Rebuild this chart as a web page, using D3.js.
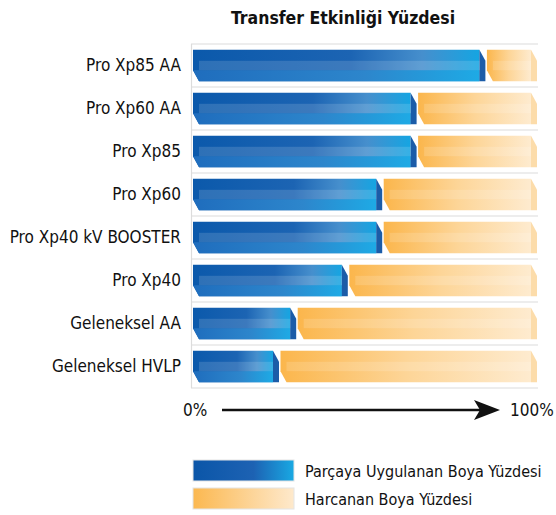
<!DOCTYPE html>
<html lang="tr">
<head>
<meta charset="UTF-8">
<title>Transfer Etkinliği Yüzdesi</title>
<style>
  body { margin: 0; background: #fff; }
  text { font-family: "Liberation Sans Narrow", "DejaVu Sans Condensed", "Liberation Sans", sans-serif; fill: #111; }
</style>
</head>
<body>
<script src="https://d3js.org/d3.v7.min.js"></script>
<div id="chart"></div>
<script>
// DATA =====================================================================
const categories = ["Pro Xp85 AA", "Pro Xp60 AA", "Pro Xp85", "Pro Xp60",
  "Pro Xp40 kV BOOSTER", "Pro Xp40", "Geleneksel AA", "Geleneksel HVLP"];
const applied = [85, 65, 65, 55, 55, 45, 30, 25];   // Parçaya Uygulanan
const wasted  = [15, 35, 35, 45, 45, 55, 70, 75];   // Harcanan
const seriesNames = ["Parçaya Uygulanan Boya Yüzdesi", "Harcanan Boya Yüzdesi"];
const axisLabels = ["0%", "100%"];

// PLOT AREA ================================================================
const W = 556, H = 515;
const svg = d3.select("#chart").append("svg")
  .attr("width", W).attr("height", H);

const x = d3.scaleLinear().domain([0, 100]).range([193, 537]);
const y = d3.scaleBand().domain(categories).range([44, 388]).paddingInner(0.27).paddingOuter(0.135);

// gradients
const defs = svg.append("defs");
function grad(id, stops) {
  const g = defs.append("linearGradient").attr("id", id)
    .attr("x1", "0%").attr("y1", "0%").attr("x2", "100%").attr("y2", "0%");
  stops.forEach(s => g.append("stop").attr("offset", s[0]).attr("stop-color", s[1]));
}
grad("blue", [[0, "#0b59ab"], [0.55, "#1c64b3"], [0.8, "#468fcd"], [1, "#15a5e2"]]);
grad("blueLow", [[0, "#1f6dbd"], [0.6, "#2d86cc"], [1, "#1eaae5"]]);
grad("orange", [[0, "#fbb64c"], [0.5, "#fdd597"], [1, "#feebcf"]]);
grad("blueLeg", [[0, "#0b56a8"], [0.6, "#1d62b3"], [1, "#19a9e3"]]);
grad("orangeLeg", [[0, "#fbb850"], [1, "#fee9cc"]]);

// title
svg.append("text")
  .attr("x", 343).attr("y", 24)
  .attr("text-anchor", "middle")
  .style("font-size", "17.5px").style("font-weight", "bold")
  .text("Transfer Etkinliği Yüzdesi");

// row frames
const frame = svg.append("g").attr("stroke", "#dcdcdc").attr("stroke-width", 1.2);
const step = y.step();
d3.range(categories.length + 1).forEach(i => {
  const yy = y.range()[0] + i * step;
  frame.append("line").attr("x1", 191).attr("x2", 538).attr("y1", yy).attr("y2", yy);
});
frame.append("line").attr("x1", 191.5).attr("x2", 191.5)
  .attr("y1", y.range()[0]).attr("y2", y.range()[1]);

// bar shape: chamfered bottom-left and top-right corners
const dx = 6, dy = 11;
function bodyPath(x0, x1, y0, y1) {
  return `M${x0},${y0} L${x1 - dx},${y0} L${x1 - dx},${y1} L${x0 + dx},${y1} L${x0},${y1 - dy} Z`;
}
function lowPath(x0, x1, y0, y1) {
  return `M${x0},${y1 - dy} L${x1 - dx},${y1 - dy} L${x1 - dx},${y1} L${x0 + dx},${y1} Z`;
}
function sidePath(x0, x1, y0, y1) {
  return `M${x1 - dx},${y0} L${x1},${y0 + dy} L${x1},${y1} L${x1 - dx},${y1} Z`;
}

const rows = categories.map((c, i) => ({ c, a: applied[i], w: wasted[i] }));
const bars = svg.append("g");
rows.forEach(d => {
  const y0 = y(d.c), y1 = y0 + y.bandwidth();
  // applied
  const bx0 = x(0), bx1 = x(d.a);
  bars.append("path").attr("d", bodyPath(bx0, bx1, y0, y1)).attr("fill", "url(#blue)");
  bars.append("path").attr("d", lowPath(bx0, bx1, y0, y1)).attr("fill", "url(#blueLow)");
  bars.append("path").attr("d", sidePath(bx0, bx1, y0, y1)).attr("fill", "#1b5ca8");
  bars.append("rect").attr("x", bx0 + dx).attr("y", y0 + 11).attr("width", bx1 - bx0 - 2 * dx)
    .attr("height", y1 - y0 - 11 - dy).attr("fill", "#fff").attr("opacity", 0.14);
  // wasted
  const ox0 = x(d.a) + 1.5, ox1 = x(d.a + d.w);
  bars.append("path").attr("d", bodyPath(ox0, ox1, y0, y1)).attr("fill", "url(#orange)");
  bars.append("path").attr("d", sidePath(ox0, ox1, y0, y1)).attr("fill", "#fcdcaa");
  bars.append("rect").attr("x", ox0 + dx).attr("y", y0 + 11).attr("width", ox1 - ox0 - 2 * dx)
    .attr("height", y1 - y0 - 11 - dy).attr("fill", "#fff").attr("opacity", 0.15);
});

// category labels
svg.append("g").selectAll("text").data(categories).join("text")
  .attr("x", 181).attr("y", d => y(d) + y.bandwidth() / 2)
  .attr("dy", "0.35em").attr("text-anchor", "end")
  .style("font-size", "17px")
  .text(d => d);

// axis arrow
svg.append("line").attr("x1", 222).attr("x2", 480).attr("y1", 410).attr("y2", 410)
  .attr("stroke", "#111").attr("stroke-width", 2.5);
svg.append("path").attr("d", "M474,400 L500,410 L474,420 L480,410 Z").attr("fill", "#111");
svg.append("text").attr("x", 183).attr("y", 416).style("font-size", "17px").text(axisLabels[0]);
svg.append("text").attr("x", 510).attr("y", 416).style("font-size", "17px").text(axisLabels[1]);

// legend
const legend = svg.append("g");
["blueLeg", "orangeLeg"].forEach((g, i) => {
  legend.append("rect").attr("x", 193).attr("y", 460 + i * 28).attr("width", 101).attr("height", 21)
    .attr("fill", `url(#${g})`).attr("stroke", "#e4e4e4");
  legend.append("text").attr("x", 305).attr("y", 471 + i * 28).attr("dy", "0.35em")
    .style("font-size", "16px").text(seriesNames[i]);
});
</script>
</body>
</html>
